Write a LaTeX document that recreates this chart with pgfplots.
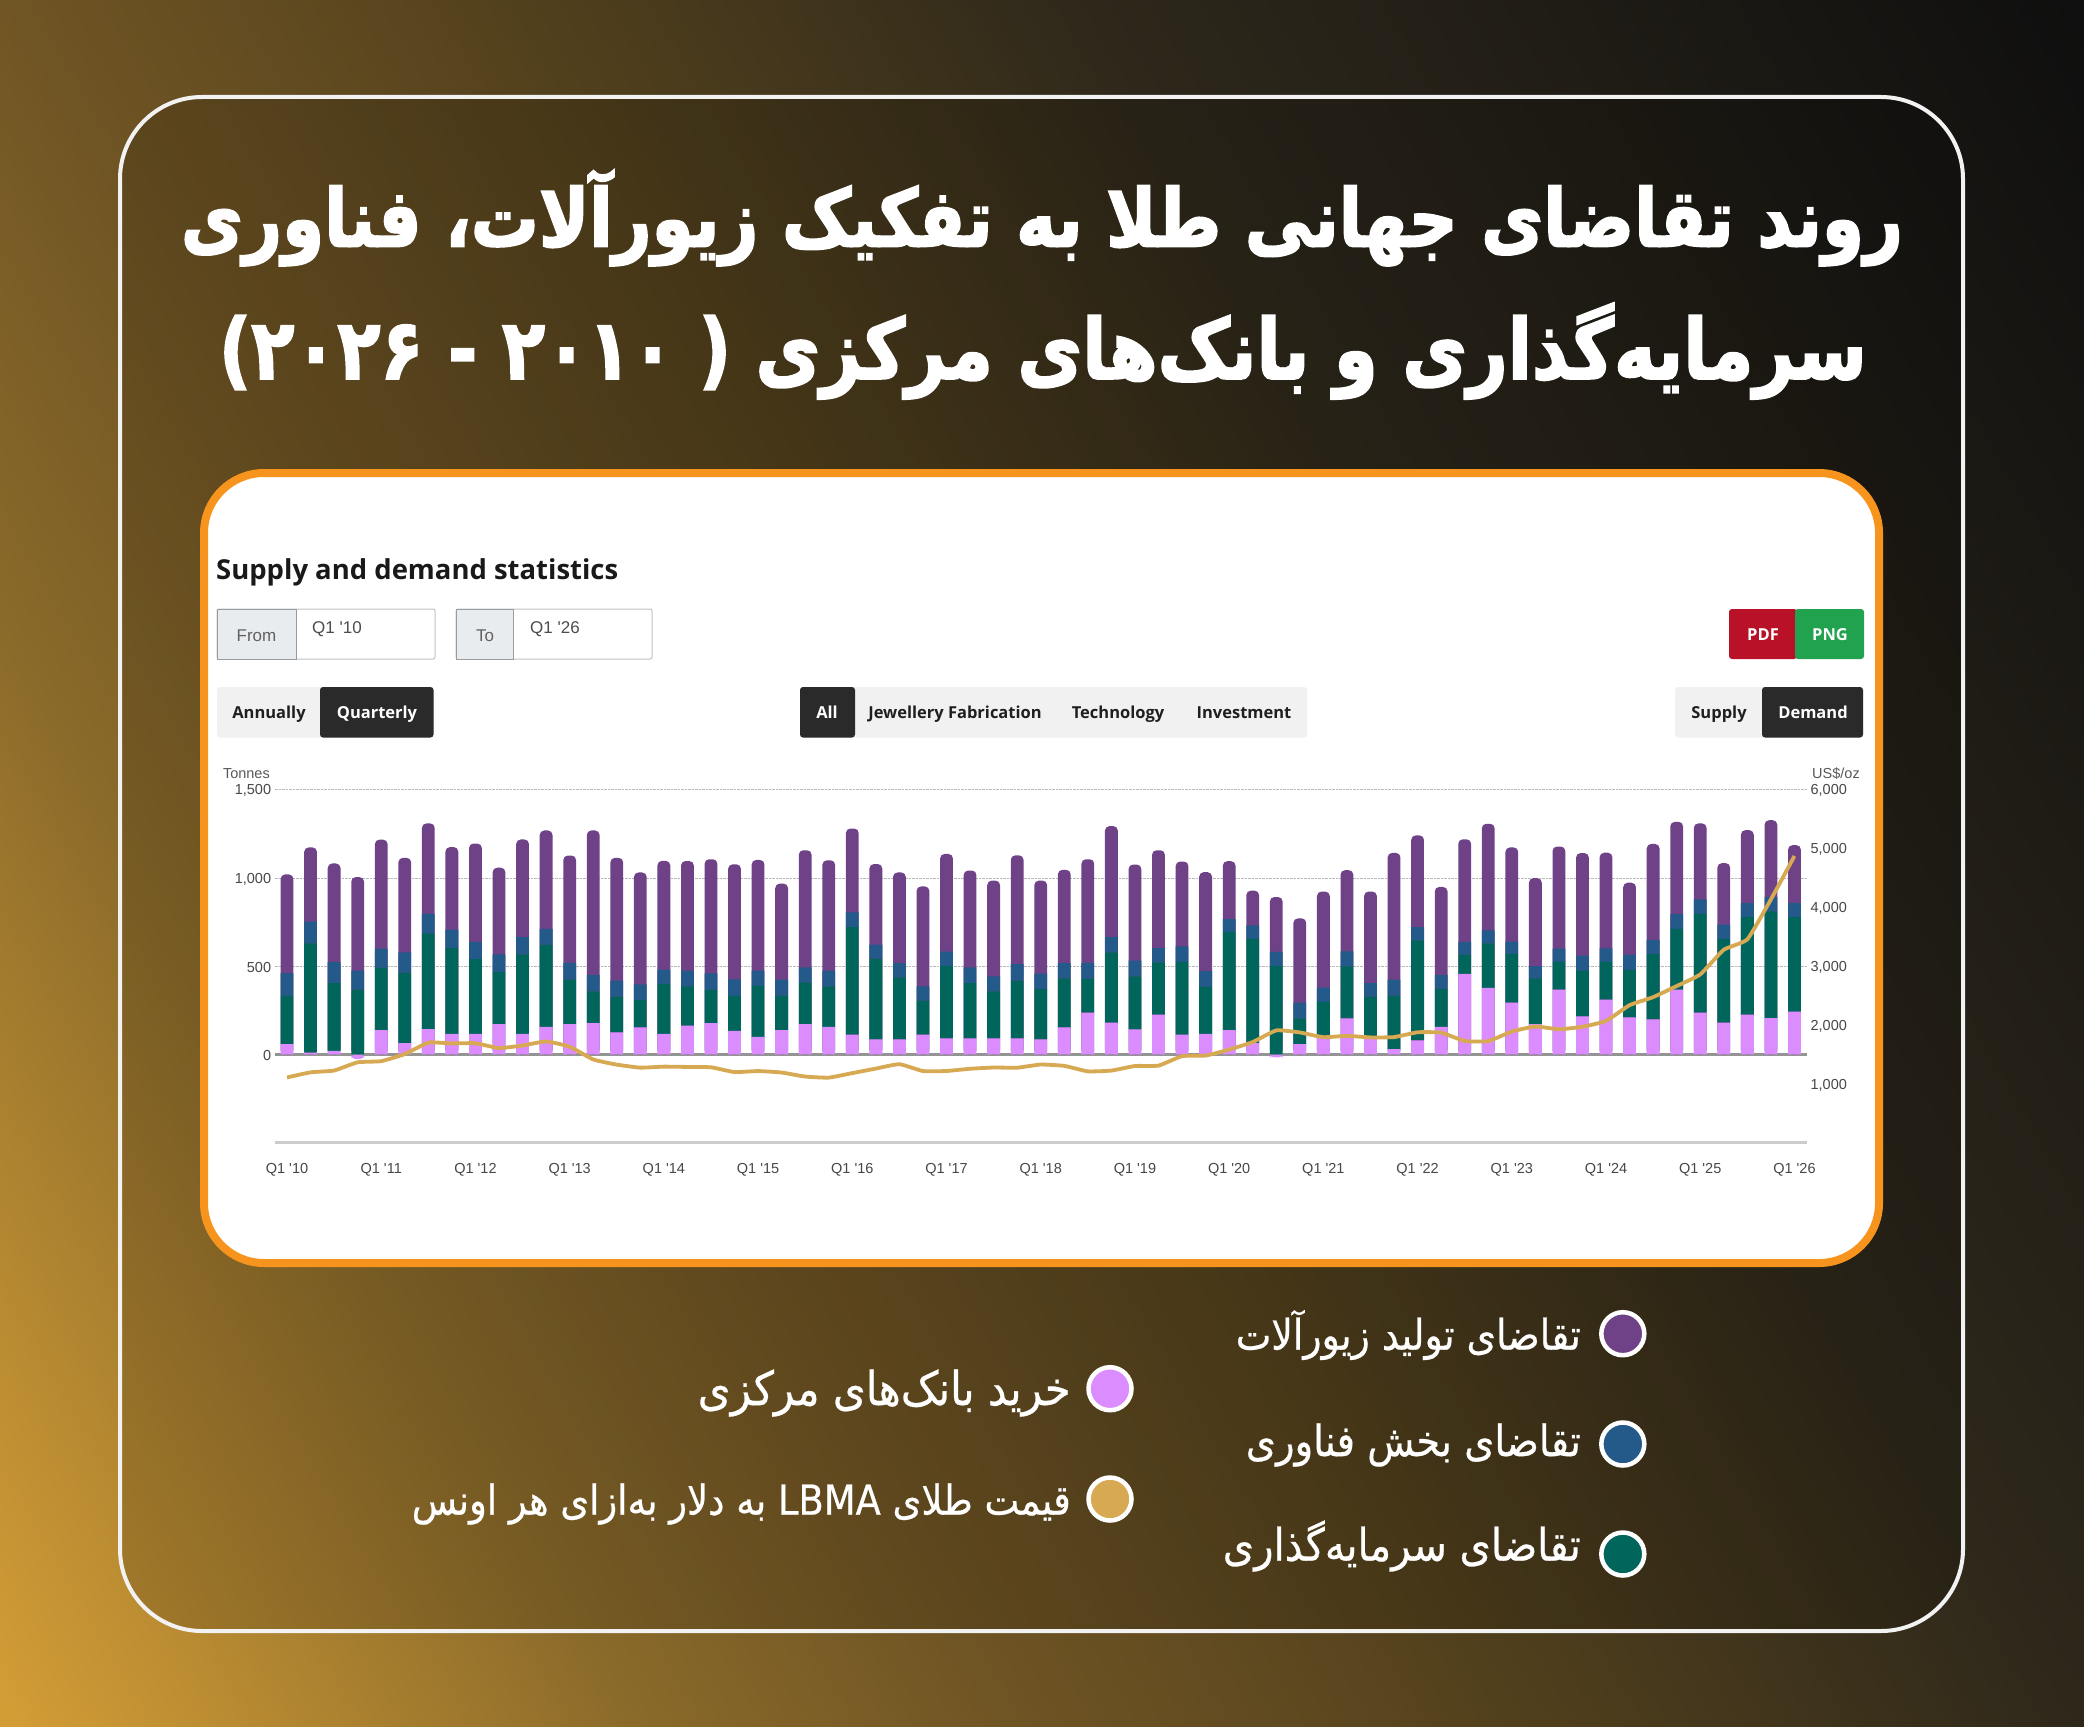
\documentclass[border=0pt]{standalone}
\usepackage{pgfplots}
\usepackage{pgfplotstable}
\usepackage{graphicx}
\usepackage{fontspec}
\pgfplotsset{compat=1.18}
\setmainfont{Open Sans}
\TeXXeTstate=1
\newfontfamily\fa[Script=Arabic,FakeBold=0.6]{DejaVu Sans}
\newfontfamily\fab[Script=Arabic,FakeBold=2.5]{DejaVu Sans Bold}
\newfontfamily\lib{Liberation Sans}
\newfontfamily\ui{Open Sans}
\definecolor{cPurple}{HTML}{6F4288}
\definecolor{cBlue}{HTML}{235A8A}
\definecolor{cGreen}{HTML}{00665C}
\definecolor{cPink}{HTML}{DB8CFF}
\definecolor{cGold}{HTML}{D7A952}
\definecolor{cOrange}{HTML}{F7941D}
\definecolor{cDark}{HTML}{2A2A2A}
\definecolor{cLight}{HTML}{F1F1F1}
\definecolor{cInput}{HTML}{E9ECEF}
\definecolor{cEdge}{HTML}{BFC2C6}
\definecolor{cPdf}{HTML}{B81128}
\definecolor{cPng}{HTML}{21A24F}
\definecolor{bgA}{HTML}{D39D36}
\definecolor{bgA2}{HTML}{8A6A2A}
\definecolor{bgB}{HTML}{705524}
\definecolor{bgC}{HTML}{503F1C}
\definecolor{bgD}{HTML}{2E281B}
\definecolor{bgE}{HTML}{0F0F0F}
\pgfdeclareverticalshading{bgsh}{100bp}{color(0bp)=(bgA); color(27.8bp)=(bgA); color(37bp)=(bgA2); color(42.2bp)=(bgB); color(50bp)=(bgC); color(57.9bp)=(bgD); color(72.2bp)=(bgE); color(100bp)=(bgE)}
\pgfplotstableread{
i pink green blue jewel price
0 59 275 127 559 1109
1 11 619 123 420 1196
2 21 383 119 559 1227
3 -26 367 108 530 1367
4 138 354 108 617 1386
5 64 400 114 536 1506
6 144 542 110 513 1702
7 116 487 104 468 1688
8 116 424 98 557 1691
9 172 295 100 491 1609
10 116 451 98 553 1652
11 157 466 89 557 1722
12 172 252 95 608 1632
13 178 180 93 818 1415
14 125 203 91 695 1327
15 153 155 89 634 1276
16 116 284 81 616 1293
17 163 223 89 621 1288
18 178 189 93 646 1282
19 133 199 93 652 1201
20 100 288 87 627 1218
21 138 195 91 544 1193
22 172 237 85 663 1124
23 157 229 89 625 1106
24 112 610 83 475 1183
25 85 458 80 456 1260
26 85 352 81 513 1335
27 112 193 81 566 1218
28 91 409 83 553 1219
29 91 313 89 549 1257
30 91 267 85 542 1278
31 91 328 93 616 1275
32 85 286 87 527 1329
33 153 278 87 528 1306
34 237 193 89 587 1213
35 180 398 87 629 1226
36 142 301 89 544 1304
37 225 297 80 555 1310
38 112 413 87 481 1472
39 116 269 87 561 1481
40 138 557 72 328 1583
41 64 591 76 197 1711
42 -17 500 81 311 1909
43 59 146 89 477 1874
44 93 205 80 545 1794
45 205 294 85 460 1816
46 93 235 76 519 1790
47 30 303 91 718 1795
48 80 566 76 519 1877
49 157 216 78 498 1871
50 456 110 72 581 1729
51 377 252 74 604 1726
52 294 275 70 534 1890
53 172 259 70 498 1976
54 367 157 76 578 1928
55 216 259 85 581 1971
56 311 214 76 542 2070
57 210 271 83 409 2338
58 199 369 81 544 2474
59 367 345 83 523 2663
60 237 559 83 430 2860
61 180 475 81 348 3280
62 225 553 80 413 3457
63 206 604 81 436 4135
64 242 536 80 328 4873
}\golddata
\pgfplotsset{
  base/.style={scale only axis,width=1532.4pt,height=353pt,xmin=-0.527,xmax=64.535,
    at={(274.6pt,-1142.7pt)},anchor=south west,clip=false,
    tick style={draw=none},major tick length=0pt,
    tick label style={font=\lib\fontsize{14.5}{16}\selectfont,text=black!72},
    yticklabel style={yshift=-1pt},
    /pgf/number format/assume math mode=true,
    /pgf/number format/1000 sep={,},
    scaled y ticks=false},
}
\newcommand{\ctl}[3]{\node[inner sep=0pt,anchor=base,text=#3,font=\ui\bfseries\fontsize{16.5}{18}\selectfont] at (#1pt,-#2pt)}
\begin{document}
\begin{tikzpicture}
\useasboundingbox (0pt,0pt) rectangle (2084pt,-1726pt);
\begin{scope}
\clip (0pt,0pt) rectangle (2084pt,-1726pt);
\shade[shading=bgsh,shading angle=-60] (-458pt,637pt) rectangle (2542pt,-2363pt);
\end{scope}
% frames
\fill[black,fill opacity=0.15,rounded corners=82pt] (120pt,-97pt) rectangle (1963pt,-1631pt);
\draw[white!95!black,line width=4pt,rounded corners=82pt] (120pt,-97pt) rectangle (1963pt,-1631pt);
\draw[cOrange,fill=white,line width=8pt,rounded corners=60pt] (204pt,-473pt) rectangle (1879pt,-1263pt);
% title
\node[inner sep=0pt,text=white] at (1042pt,-218pt) {\resizebox{1722pt}{!}{\scalebox{1}[1.18]{\fab\fontsize{80}{90}\selectfont\beginR روند تقاضای جهانی طلا به تفکیک زیورآلات، فناوری\endR}}};
\node[inner sep=0pt,text=white] at (1043pt,-351pt) {\resizebox{1648pt}{!}{\scalebox{1}[1.18]{\fab\fontsize{80}{90}\selectfont\beginR سرمایه^^^^200cگذاری و بانک^^^^200cهای مرکزی ( \beginL ۲۰۱۰\endL{} - \beginL ۲۰۲۶\endL{})\endR}}};
% panel header
\node[inner sep=0pt,anchor=west,text=black!90] at (216pt,-572.5pt) {\resizebox{402pt}{!}{\ui\bfseries\fontsize{28}{32}\selectfont Supply and demand statistics}};
% inputs
\draw[cEdge,line width=1pt,fill=white,rounded corners=2pt] (217pt,-609pt) rectangle (435pt,-659pt);
\draw[cEdge!80!black,line width=1pt,fill=cInput] (217pt,-609pt) rectangle (296.4pt,-659pt);
\draw[cEdge,line width=1pt,fill=white,rounded corners=2pt] (456pt,-609pt) rectangle (652pt,-659pt);
\draw[cEdge!80!black,line width=1pt,fill=cInput] (456pt,-609pt) rectangle (513.4pt,-659pt);
\node[inner sep=0pt,text=black!62,font=\lib\fontsize{17}{19}\selectfont] at (256.5pt,-635.5pt) {From};
\node[inner sep=0pt,text=black!62,font=\lib\fontsize{17}{19}\selectfont] at (485pt,-635.5pt) {To};
\node[inner sep=0pt,text=black!70,font=\lib\fontsize{17}{19}\selectfont] at (337pt,-629pt) {Q1 '10};
\node[inner sep=0pt,text=black!70,font=\lib\fontsize{17}{19}\selectfont] at (555pt,-629pt) {Q1 '26};
% buttons
\fill[cLight,rounded corners=3pt] (217pt,-687pt) rectangle (433.5pt,-737.5pt);
\fill[cDark,rounded corners=3pt] (320pt,-687pt) rectangle (433.5pt,-737.5pt);
\fill[cLight,rounded corners=3pt] (800pt,-687pt) rectangle (1307pt,-737.5pt);
\fill[cDark,rounded corners=3pt] (800pt,-687pt) rectangle (855pt,-737.5pt);
\fill[cLight,rounded corners=3pt] (1675pt,-687pt) rectangle (1863pt,-737.5pt);
\fill[cDark,rounded corners=3pt] (1762pt,-687pt) rectangle (1863pt,-737.5pt);
\fill[cPdf,rounded corners=3pt] (1729pt,-609pt) rectangle (1797pt,-659pt);
\fill[cPng,rounded corners=3pt] (1795pt,-609pt) rectangle (1864pt,-659pt);
\ctl{269}{718}{black!88} {Annually};
\ctl{377}{718}{white} {Quarterly};
\ctl{827}{718}{white} {All};
\ctl{955}{718}{black!88} {Jewellery Fabrication};
\ctl{1118}{718}{black!88} {Technology};
\ctl{1244}{718}{black!88} {Investment};
\ctl{1719}{718}{black!88} {Supply};
\ctl{1813}{718}{white} {Demand};
\ctl{1763}{640}{white} {PDF};
\ctl{1830}{640}{white} {PNG};
\node[inner sep=0pt,anchor=east,text=black!65,font=\lib\fontsize{14.5}{16}\selectfont] at (270pt,-774pt) {Tonnes};
\node[inner sep=0pt,anchor=west,text=black!65,font=\lib\fontsize{14.5}{16}\selectfont] at (1812pt,-774pt) {US\$/oz};
% axis 1: grid, negative central-bank values, whole bars with their rounded tops
\begin{axis}[base,ymin=-500,ymax=1500,ybar,bar width=12.8pt,bar shift=0pt,
  axis x line*=bottom,axis y line*=left,
  x axis line style={draw=none},y axis line style={draw=none},
  ytick={0,500,1000,1500},ymajorgrids,grid style={densely dotted,black!28,line width=0.9pt},
  xtick={0,4,...,64},
  xticklabels={Q1 '10,Q1 '11,Q1 '12,Q1 '13,Q1 '14,Q1 '15,Q1 '16,Q1 '17,Q1 '18,Q1 '19,Q1 '20,Q1 '21,Q1 '22,Q1 '23,Q1 '24,Q1 '25,Q1 '26},
  xticklabel style={yshift=-17.5pt}]
\draw[black!20,line width=3pt] (axis cs:-0.527,-500) -- (axis cs:64.535,-500);
\draw[black!42,line width=2.4pt] (axis cs:-0.527,0) -- (axis cs:64.535,0);
\addplot[fill=cPink,draw=none,rounded corners=4pt] table[x=i,y expr={min(\thisrow{pink},0)}] {\golddata};
\addplot[fill=cPurple,draw=none,rounded corners=4.5pt] table[x=i,y expr={max(\thisrow{pink},0)+\thisrow{green}+\thisrow{blue}+\thisrow{jewel}}] {\golddata};
\end{axis}
% axis 2: stacked lower layers
\begin{axis}[base,ymin=-500,ymax=1500,ybar stacked,bar width=12.8pt,hide axis]
\addplot[fill=cPink,draw=none] table[x=i,y expr={max(\thisrow{pink},0)}] {\golddata};
\addplot[fill=cGreen,draw=none] table[x=i,y=green] {\golddata};
\addplot[fill=cBlue,draw=none] table[x=i,y=blue] {\golddata};
\end{axis}
% axis 3: price on the right axis
\begin{axis}[base,ymin=0,ymax=6000,axis y line*=right,axis x line=none,y axis line style={draw=none},
  ytick={1000,2000,3000,4000,5000,6000}]
\addplot[cGold,line width=3.8pt,line join=round,smooth,tension=0.25,no marks] table[x=i,y=price] {\golddata};
\end{axis}
% legend
\foreach \cx/\cy/\cc in {1622.8/1333.7/cPurple,1622.8/1444/cBlue,1622.8/1554/cGreen,1110/1388.7/cPink,1110/1499/cGold}{
  \draw[white,line width=4.5pt,fill=\cc] (\cx pt,-\cy pt) circle (21.5pt);}
\node[inner sep=0pt,anchor=east,text=white] at (1581pt,-1335pt) {\resizebox{345pt}{!}{\scalebox{1}[1.12]{\fa\fontsize{40}{46}\selectfont\beginR تقاضای تولید زیورآلات\endR}}};
\node[inner sep=0pt,anchor=east,text=white] at (1581pt,-1445pt) {\resizebox{335pt}{!}{\scalebox{1}[1.12]{\fa\fontsize{40}{46}\selectfont\beginR تقاضای بخش فناوری\endR}}};
\node[inner sep=0pt,anchor=east,text=white] at (1581pt,-1546pt) {\resizebox{358pt}{!}{\scalebox{1}[1.12]{\fa\fontsize{40}{46}\selectfont\beginR تقاضای سرمایه^^^^200cگذاری\endR}}};
\node[inner sep=0pt,anchor=east,text=white] at (1071pt,-1393pt) {\resizebox{373pt}{!}{\scalebox{1}[1.12]{\fa\fontsize{40}{46}\selectfont\beginR خرید بانک^^^^200cهای مرکزی\endR}}};
\node[inner sep=0pt,anchor=east,text=white] at (1071pt,-1504pt) {\resizebox{659pt}{!}{\scalebox{1}[1.12]{\fa\fontsize{40}{46}\selectfont\beginR قیمت طلای \beginL LBMA\endL{} به دلار به^^^^200cازای هر اونس\endR}}};
\end{tikzpicture}
\end{document}
